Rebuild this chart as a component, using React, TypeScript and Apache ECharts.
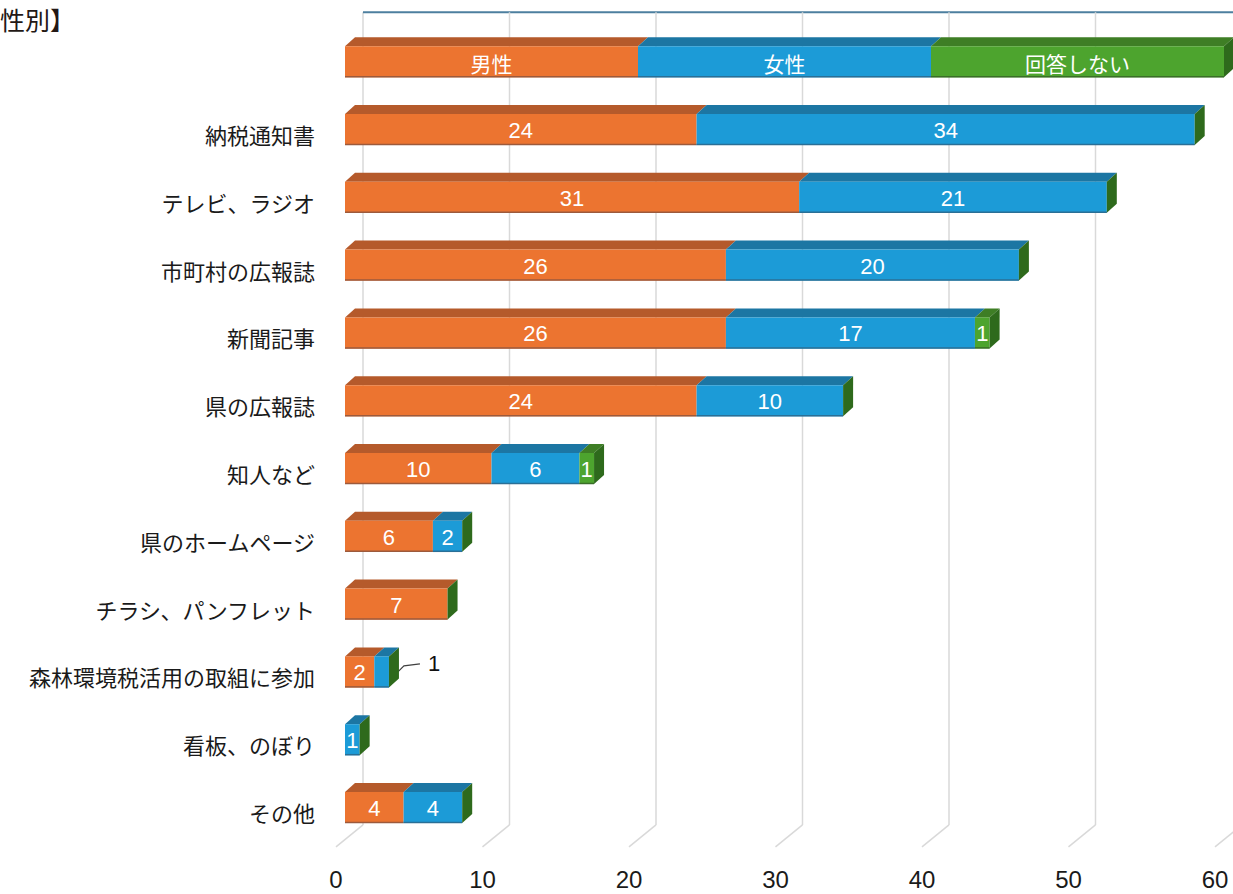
import React, { useEffect, useRef } from 'react';
import * as echarts from 'echarts';

const categories = [
  '納税通知書',
  'テレビ、ラジオ',
  '市町村の広報誌',
  '新聞記事',
  '県の広報誌',
  '知人など',
  '県のホームページ',
  'チラシ、パンフレット',
  '森林環境税活用の取組に参加',
  '看板、のぼり',
  'その他',
];
const seriesNames = ['男性', '女性', '回答しない'];
const male = [24, 31, 26, 26, 24, 10, 6, 7, 2, 0, 4];
const female = [34, 21, 20, 17, 10, 6, 2, 0, 1, 1, 4];
const noAnswer = [0, 0, 0, 1, 0, 1, 0, 0, 0, 0, 0];
const xTicks = [0, 10, 20, 30, 40, 50, 60];
const calloutCategories = ['森林環境税活用の取組に参加'];
const titleText = '性別】';

const palette = [
  { front: '#ec7430', top: '#b55a2b', side: '#a04e22', edge: '#9c5a3c' },
  { front: '#1c9bd7', top: '#1c76a3', side: '#15628a', edge: '#2a6f96' },
  { front: '#4da42e', top: '#3e7e25', side: '#2e6a1c', edge: '#3a6e28' },
];

const FRONT_SHIFT = 9; // front face of bars relative to floor front
const BACK_SHIFT = 27; // back wall relative to floor front
const DX = 10;
const DY = 9;
const BAR_H = 31;
const BAR_OFF = -4.5;

function barGeom(api: any, cat: number, s: number, e: number) {
  const p0 = api.coord([s, cat]);
  const p1 = api.coord([e, cat]);
  const x0 = p0[0] + FRONT_SHIFT;
  const x1 = p1[0] + FRONT_SHIFT;
  const yc = p0[1] + BAR_OFF;
  const yT = yc - BAR_H / 2;
  const yB = yT + BAR_H;
  return { x0, x1, yT, yB, yc };
}

function faces(k: number, g: any, withSide: boolean) {
  const c = palette[k];
  const ch: any[] = [];
  const w = g.x1 - g.x0;
  if (w > 0) {
    ch.push({
      type: 'polygon',
      shape: { points: [[g.x0, g.yT], [g.x1, g.yT], [g.x1 + DX, g.yT - DY], [g.x0 + DX, g.yT - DY]] },
      style: { fill: c.top },
    });
    ch.push({
      type: 'rect',
      shape: { x: g.x0, y: g.yT, width: w, height: BAR_H },
      style: { fill: c.front },
    });
    ch.push({
      type: 'line',
      shape: { x1: g.x0, y1: g.yB - 0.5, x2: g.x1, y2: g.yB - 0.5 },
      style: { stroke: c.edge, lineWidth: 1.5 },
    });
  }
  if (withSide) {
    ch.push({
      type: 'polygon',
      shape: { points: [[g.x1, g.yT], [g.x1 + DX, g.yT - DY], [g.x1 + DX, g.yB - DY], [g.x1, g.yB]] },
      style: { fill: c.side },
    });
  }
  return ch;
}

export default function App() {
  const ref = useRef<HTMLDivElement>(null);
  useEffect(() => {
    if (!ref.current) return;
    const chart = echarts.init(ref.current, undefined, { renderer: 'svg' });
    const values = [male, female, noAnswer];
    const yData = ['', ...categories];
    const xMax = xTicks[xTicks.length - 1];

    const segSeries = values.map((arr, k) => {
      const data = arr.map((v, i) => {
        let start = 0;
        for (let j = 0; j < k; j++) start += values[j][i];
        return [i + 1, start, start + v, v];
      });
      return {
        type: 'custom',
        name: seriesNames[k],
        z: 10,
        encode: { x: [1, 2], y: 0 },
        data,
        renderItem: (params: any, api: any) => {
          const cat = api.value(0);
          const s = api.value(1);
          const e = api.value(2);
          const v = api.value(3);
          const g = barGeom(api, cat, s, e);
          const ch = faces(k, g, k === values.length - 1);
          if (v > 0) {
            const catName = categories[cat - 1];
            if (k === 1 && calloutCategories.indexOf(catName) >= 0) {
              const sx = g.x1 + 3;
              const sy = g.yc + 6;
              ch.push({
                type: 'polyline',
                shape: { points: [[sx, sy], [sx + 12, sy - 12], [sx + 28, sy - 14]] },
                style: { stroke: '#404040', lineWidth: 1.2, fill: 'none' },
              });
              ch.push({
                type: 'text',
                style: {
                  x: sx + 36,
                  y: sy - 14,
                  text: String(v),
                  fill: '#111',
                  font: '22px "Liberation Sans", Arial, sans-serif',
                  align: 'left',
                  verticalAlign: 'middle',
                },
              });
            } else {
              ch.push({
                type: 'text',
                style: {
                  x: (g.x0 + g.x1) / 2,
                  y: g.yc + 1,
                  text: String(v),
                  fill: '#ffffff',
                  font: '22px "Liberation Sans", Arial, sans-serif',
                  align: 'center',
                  verticalAlign: 'middle',
                },
              });
            }
          }
          return { type: 'group', children: ch };
        },
      };
    });

    const legendSeries = {
      type: 'custom',
      name: 'legend',
      z: 10,
      encode: { x: [1, 2], y: 0 },
      data: seriesNames.map((n, k) => [0, (k * xMax) / seriesNames.length, ((k + 1) * xMax) / seriesNames.length, k]),
      renderItem: (params: any, api: any) => {
        const k = api.value(3);
        const g = barGeom(api, 0, api.value(1), api.value(2));
        const ch = faces(k, g, k === seriesNames.length - 1);
        ch.push({
          type: 'text',
          style: {
            x: (g.x0 + g.x1) / 2,
            y: g.yc + 1,
            text: seriesNames[k],
            fill: '#ffffff',
            font: '21px "Noto Sans CJK JP", sans-serif',
            align: 'center',
            verticalAlign: 'middle',
          },
        });
        return { type: 'group', children: ch };
      },
    };

    const gridSeries = {
      type: 'custom',
      name: 'grid',
      z: 1,
      silent: true,
      encode: { x: 0, y: 1 },
      data: xTicks.map((t) => [t, 0]),
      renderItem: (params: any, api: any) => {
        const cs = params.coordSys;
        const x = api.coord([api.value(0), 0])[0];
        const floorFront = cs.y + cs.height + 1;
        const floorBack = floorFront - 22;
        const backTop = cs.y - 20;
        const ch: any[] = [
          {
            type: 'line',
            shape: { x1: x + BACK_SHIFT, y1: backTop, x2: x + BACK_SHIFT, y2: floorBack },
            style: { stroke: '#d9d9d9', lineWidth: 1.5 },
          },
          {
            type: 'line',
            shape: { x1: x + BACK_SHIFT, y1: floorBack, x2: x, y2: floorFront },
            style: { stroke: '#d9d9d9', lineWidth: 1.5 },
          },
        ];
        if (params.dataIndex === 0) {
          ch.push({
            type: 'line',
            shape: { x1: x + BACK_SHIFT, y1: backTop, x2: cs.x + cs.width + BACK_SHIFT + 20, y2: backTop },
            style: { stroke: '#4d7f9f', lineWidth: 2 },
          });
        }
        return { type: 'group', children: ch };
      },
    };

    chart.setOption({
      animation: false,
      backgroundColor: '#ffffff',
      grid: { left: 336, width: 879, top: 32.3, height: 813.6, containLabel: false },
      xAxis: {
        type: 'value',
        min: 0,
        max: xMax,
        interval: 10,
        axisLine: { show: false },
        axisTick: { show: false },
        splitLine: { show: false },
        axisLabel: {
          margin: 22,
          fontSize: 24,
          color: '#1a1a1a',
          fontFamily: '"Liberation Sans", Arial, sans-serif',
        },
      },
      yAxis: {
        type: 'category',
        inverse: true,
        data: yData,
        axisLine: { show: false },
        axisTick: { show: false },
        splitLine: { show: false },
        axisLabel: {
          margin: 21,
          fontSize: 22,
          color: '#1a1a1a',
          fontFamily: '"Noto Sans CJK JP", sans-serif',
        },
      },
      graphic: [
        {
          type: 'text',
          left: 0,
          top: 6,
          style: {
            text: titleText,
            fill: '#231815',
            font: '25px "Noto Sans CJK JP", sans-serif',
          },
        },
      ],
      series: [gridSeries, legendSeries, ...segSeries],
    });
    return () => chart.dispose();
  }, []);
  return <div ref={ref} style={{ position: 'absolute', left: 0, top: 0, width: 1233, height: 894 }} />;
}
